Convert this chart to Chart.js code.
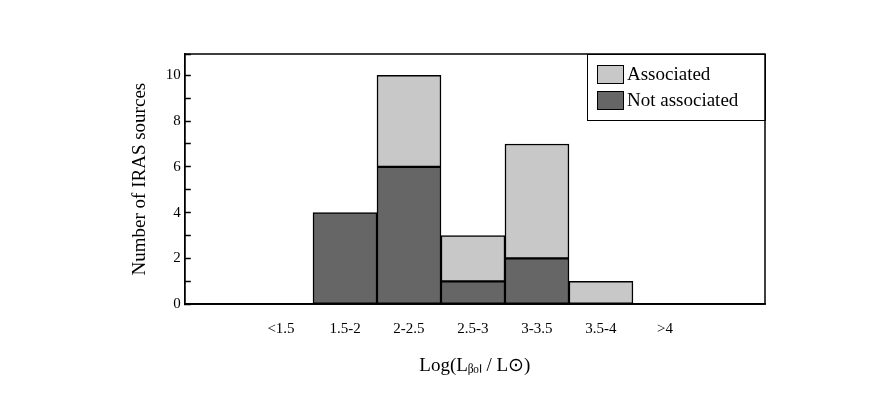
<!DOCTYPE html>
<html><head>
<script src="https://cdn.jsdelivr.net/npm/chart.js@4"></script>
<style>html,body{margin:0;background:#fff}#wrap{width:890px;height:417px}</style>
</head><body><div id="wrap"><canvas id="c"></canvas></div>
<script>
const categories = ['<1.5', '1.5-2', '2-2.5', '2.5-3', '3-3.5', '3.5-4', '>4'];
const notAssociated = [0, 4, 6, 1, 2, 0, 0];
const associated = [0, 0, 4, 2, 5, 1, 0];

const FONT = 'Liberation Serif';
const toPoints = arr => arr.map((v, i) => ({ x: i, y: v }));

// legend box drawn inside the plot, top right
const boxLegend = {
    id: 'boxLegend',
    afterDraw(chart) {
        const { ctx, chartArea: a } = chart;
        const items = [['Associated', '#c8c8c8'], ['Not associated', '#666666']];
        const w = 178, h = 66, x = a.right - w, y = a.top;
        ctx.save();
        ctx.fillStyle = '#fff'; ctx.strokeStyle = '#000'; ctx.lineWidth = 1;
        ctx.fillRect(x, y, w, h); ctx.strokeRect(x + 0.5, y + 0.5, w, h);
        ctx.font = '19px ' + FONT; ctx.textBaseline = 'middle';
        items.forEach(([t, c], i) => {
            const yy = y + 20 + i * 26;
            ctx.fillStyle = c; ctx.fillRect(x + 10, yy - 9, 26, 18);
            ctx.strokeRect(x + 10.5, yy - 8.5, 26, 18);
            ctx.fillStyle = '#000'; ctx.fillText(t, x + 40, yy + 1);
        });
        ctx.restore();
    }
};

new Chart(document.getElementById('c'), {
    type: 'bar',
    data: {
        datasets: [
            { label: 'Not associated', data: toPoints(notAssociated), backgroundColor: '#666666',
              borderColor: '#000', borderWidth: 1.5, borderSkipped: false },
            { label: 'Associated', data: toPoints(associated), backgroundColor: '#c8c8c8',
              borderColor: '#000', borderWidth: 1.5, borderSkipped: false }
        ]
    },
    options: {
        responsive: true, maintainAspectRatio: false, animation: false,
        layout: { padding: { left: 125, right: 125, top: 54, bottom: 36 } },
        datasets: { bar: { barPercentage: 1, categoryPercentage: 1 } },
        plugins: { legend: { display: false }, tooltip: { enabled: false } },
        scales: {
            x: {
                type: 'linear', stacked: true, min: -1, max: 7.06,
                border: { display: true, color: '#000', width: 1.5 },
                grid: { display: false, drawTicks: false },
                ticks: {
                    stepSize: 1, color: '#000', font: { family: FONT, size: 15 }, padding: 16,
                    callback: v => categories[v] ?? ''
                },
                title: { display: true, text: 'Log(L\u1d66\u2092\u2097 / L\u2299)', color: '#000',
                         font: { family: FONT, size: 19 }, padding: { top: 0 } }
            },
            y: {
                stacked: true, min: 0, max: 10.93,
                border: { display: true, color: '#000', width: 1.5 },
                grid: { drawOnChartArea: false, tickLength: -6, color: '#000', tickWidth: 1.5 },
                ticks: {
                    stepSize: 1, color: '#000', font: { family: FONT, size: 15 }, padding: 10,
                    callback: v => (v % 2 === 0 && v <= 10) ? v : ''
                },
                title: { display: true, text: 'Number of IRAS sources', color: '#000',
                         font: { family: FONT, size: 19 } }
            }
        }
    },
    plugins: [boxLegend, {
        id: 'frame',
        afterDraw(chart) {
            const { ctx, chartArea: a } = chart;
            ctx.save(); ctx.strokeStyle = '#000'; ctx.lineWidth = 1.5;
            ctx.strokeRect(a.left, a.top, a.right - a.left, a.bottom - a.top);
            ctx.restore();
        }
    }]
});
</script></body></html>
